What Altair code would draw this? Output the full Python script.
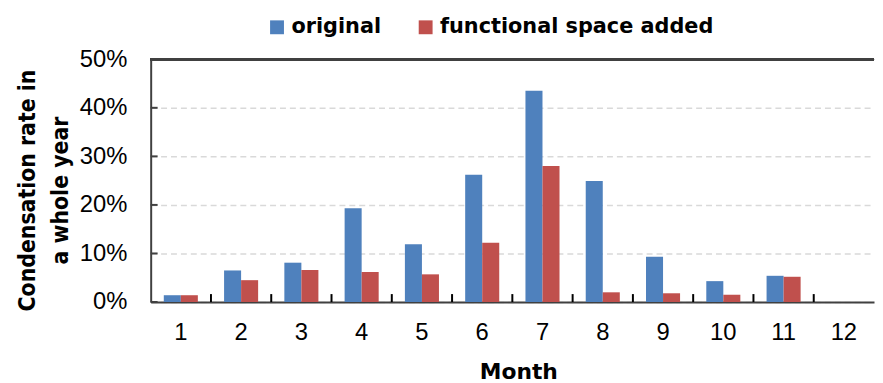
import altair as alt
import pandas as pd

months = list(range(1, 13))
series_names = ["original", "functional space added"]
original = [0.014, 0.065, 0.081, 0.193, 0.119, 0.262, 0.435, 0.249, 0.093, 0.043, 0.054, 0.0]
functional = [0.014, 0.045, 0.066, 0.062, 0.057, 0.122, 0.280, 0.020, 0.018, 0.015, 0.052, 0.0]
y_tick_values = [0.0, 0.1, 0.2, 0.3, 0.4, 0.5]
colors = ["#4F81BD", "#C0504D"]

rows = []
for m, a, b in zip(months, original, functional):
    rows.append({"month": m, "series": series_names[0], "value": a})
    rows.append({"month": m, "series": series_names[1], "value": b})
df = pd.DataFrame(rows)
# boundaries between consecutive months (index of the boundary on a 0..12 axis)
xticks_df = pd.DataFrame({"b": [m - 1 for m in months[1:]]})
yticks_df = pd.DataFrame({"v": y_tick_values})

W = 730
H = 245
pin = 0.435
tick_len = 8 * 0.5 / H  # 8 px expressed in y-data units

xscale = alt.Scale(paddingInner=pin, paddingOuter=pin / 2)
yscale = alt.Scale(domain=[0, 0.5])

bars = alt.Chart(df).mark_bar().encode(
    x=alt.X("month:O", scale=xscale, sort=months,
            axis=alt.Axis(title="Month", labelAngle=0, ticks=False, grid=False,
                          labelFont="Liberation Sans", labelFontSize=24, labelColor="#000000",
                          labelPadding=19, domainColor="#404040", domainWidth=2,
                          titleFont="DejaVu Sans", titleFontWeight="bold", titleFontSize=22,
                          titleColor="#000000", titleBaseline="alphabetic",
                          titleX=371, titleY=77)),
    xOffset=alt.XOffset("series:N", sort=series_names, scale=alt.Scale(paddingInner=0, paddingOuter=0)),
    y=alt.Y("value:Q", scale=yscale,
            axis=alt.Axis(title=["Condensation rate in", "a whole year"], format=".0%",
                          values=y_tick_values, ticks=False,
                          labelFont="Liberation Sans", labelFontSize=24, labelColor="#000000",
                          labelPadding=24, domainColor="#404040", domainWidth=2,
                          gridColor="#d9d9d9", gridDash=[6, 4], gridWidth=1.5,
                          titleFont="DejaVu Sans Condensed", titleFontWeight="bold", titleFontSize=23,
                          titleColor="#000000", titleAngle=-90, titleBaseline="alphabetic",
                          titleAlign="center", titleX=-117, titleY=132, titleLineHeight=33)),
    color=alt.Color("series:N", sort=series_names,
                    scale=alt.Scale(domain=series_names, range=colors),
                    legend=alt.Legend(title=None, orient="none", legendX=117, legendY=-43,
                                      direction="horizontal", symbolType="square",
                                      symbolSize=196, symbolStrokeWidth=0,
                                      labelFont="DejaVu Sans", labelFontWeight="bold",
                                      labelFontSize=21, labelColor="#000000", labelLimit=500,
                                      labelOffset=4, columnPadding=34)),
)

top_line = alt.Chart(df).mark_rule(color="#404040", strokeWidth=2).encode(
    y=alt.datum(0.5, scale=yscale)
)

# month-boundary tick marks pointing up into the plot
xticks = alt.Chart(xticks_df).mark_rule(color="#000000", strokeWidth=2).encode(
    x=alt.X("b:Q", scale=alt.Scale(domain=[0, 12], nice=False, zero=False), axis=None),
    y=alt.datum(0.0),
    y2=alt.datum(tick_len),
)

yticks = alt.Chart(yticks_df).mark_rule(color="#404040", strokeWidth=2).encode(
    y=alt.Y("v:Q", scale=yscale),
    x=alt.value(0),
    x2=alt.value(7),
)

chart = alt.layer(bars, top_line, xticks, yticks).resolve_scale(
    x="independent"
).properties(
    width=W, height=H, autosize="none",
    padding={"left": 144, "top": 50, "right": 1, "bottom": 80},
).configure_view(stroke=None)

chart.save("out.html", embed_options={"renderer": "svg", "actions": False})
